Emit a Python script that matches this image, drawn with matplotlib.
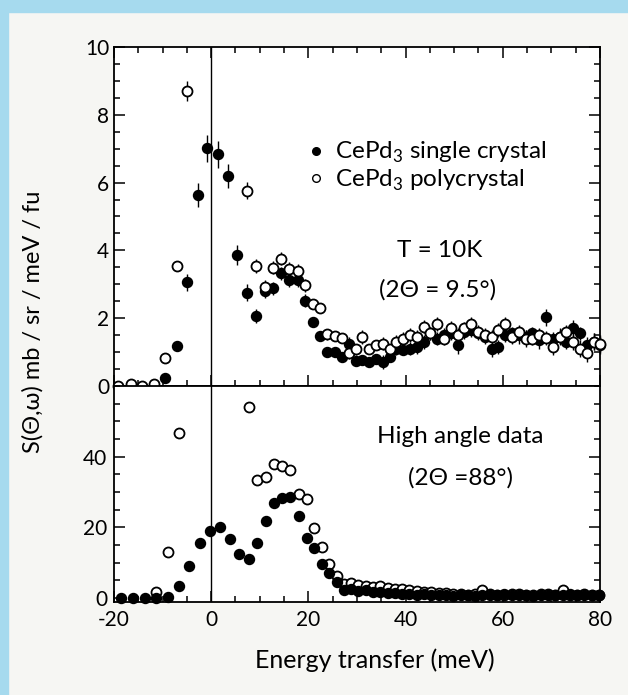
import numpy as np
import matplotlib
matplotlib.use('Agg')
import matplotlib.pyplot as plt
from matplotlib.lines import Line2D
from matplotlib.patches import Rectangle
from matplotlib.ticker import MultipleLocator

plt.rcParams['font.family'] = ['Lato', 'DejaVu Sans']
plt.rcParams['mathtext.fontset'] = 'custom'
plt.rcParams['mathtext.rm'] = 'Lato'
plt.rcParams['axes.unicode_minus'] = False

nan = np.nan

# ---- low angle (2theta = 9.5 deg) ----
e_low = [-19.1, -16.6, -14.2, -11.8, -9.4, -7.1, -4.9, -2.8, -0.8, 1.4, 3.4, 5.4,
         7.3, 9.3, 11.0, 12.7, 14.4, 16.1, 17.8, 19.4, 20.9, 22.4, 23.9, 25.4,
         26.9, 28.3, 29.7, 31.1, 32.5, 33.9, 35.3, 36.7, 38.1, 39.5, 40.9, 42.3,
         43.7, 45.1, 46.5, 47.9, 49.3, 50.7, 52.1, 53.5, 54.9, 56.3, 57.7, 59.1,
         60.5, 61.9, 63.3, 64.7, 66.1, 67.5, 68.9, 70.3, 71.7, 73.1, 74.5, 75.9,
         77.3, 78.7, 80.0]
single_low = [nan, nan, nan, nan, 0.23, 1.18, 3.06, 5.63, 7.01, 6.84, 6.19, 3.86,
              2.75, 2.06, 2.81, 2.88, 3.32, 3.13, 3.13, 2.52, 1.89, 1.47, 1.01, 1.01,
              0.85, 1.25, 0.75, 0.77, 0.72, 0.80, 0.70, 0.85, 1.10, 1.05, 1.10, 1.15,
              1.30, 1.55, 1.40, 1.50, 1.55, 1.20, 1.60, 1.65, 1.55, 1.45, 1.10, 1.15,
              1.50, 1.55, 1.50, 1.45, 1.55, 1.35, 2.03, 1.40, 1.45, 1.30, 1.70, 1.55,
              1.20, 1.30, 1.20]
poly_low = [0.0, 0.05, 0.0, 0.05, 0.82, 3.54, 8.7, nan, nan, nan, nan, nan,
            5.76, 3.54, 2.93, 3.49, 3.76, 3.46, 3.40, 2.97, 2.41, 2.29, 1.52, 1.47,
            1.42, 0.96, 1.08, 1.45, 1.10, 1.20, 1.25, 1.10, 1.30, 1.40, 1.50, 1.45,
            1.75, 1.55, 1.83, 1.40, 1.72, 1.50, 1.70, 1.84, 1.60, 1.50, 1.45, 1.65,
            1.83, 1.45, 1.60, 1.40, 1.40, 1.50, 1.42, 1.15, 1.45, 1.60, 1.30, 1.10,
            0.97, 1.30, 1.25]
err_single = [0.05, 0.05, 0.05, 0.05, 0.1, 0.15, 0.25, 0.35, 0.4, 0.4, 0.35, 0.3,
              0.25, 0.2, 0.2, 0.2, 0.2, 0.2, 0.2, 0.2, 0.15, 0.15, 0.15, 0.15,
              0.15, 0.2, 0.15, 0.15, 0.15, 0.15, 0.2, 0.15, 0.2, 0.15, 0.2, 0.2,
              0.2, 0.2, 0.2, 0.2, 0.2, 0.25, 0.2, 0.2, 0.2, 0.2, 0.25, 0.2,
              0.2, 0.2, 0.25, 0.2, 0.2, 0.25, 0.25, 0.2, 0.25, 0.2, 0.25, 0.2,
              0.25, 0.25, 0.25]
err_poly = [0.05, 0.05, 0.05, 0.05, 0.1, 0.15, 0.3, nan, nan, nan, nan, nan,
            0.25, 0.2, 0.2, 0.2, 0.2, 0.2, 0.2, 0.2, 0.15, 0.15, 0.15, 0.15,
            0.15, 0.15, 0.15, 0.2, 0.15, 0.15, 0.2, 0.15, 0.2, 0.2, 0.2, 0.2,
            0.2, 0.2, 0.2, 0.2, 0.2, 0.2, 0.2, 0.2, 0.2, 0.2, 0.2, 0.2,
            0.2, 0.2, 0.2, 0.25, 0.2, 0.2, 0.2, 0.25, 0.2, 0.2, 0.25, 0.25,
            0.25, 0.25, 0.25]

# ---- high angle (2theta = 88 deg) ----
e_high = [-18.6, -16.1, -13.7, -11.3, -8.9, -6.7, -4.5, -2.4, -0.3, 1.9, 3.8, 5.8,
          7.7, 9.5, 11.3, 13.0, 14.6, 16.3, 18.0, 19.7, 21.2, 22.8, 24.2, 25.8,
          27.3, 28.8, 30.3, 31.8, 33.3, 34.8, 36.3, 37.8, 39.3, 40.8, 42.3, 43.8,
          45.3, 46.8, 48.3, 49.8, 51.3, 52.8, 54.3, 55.8, 57.3, 58.8, 60.3, 61.8,
          63.3, 64.8, 66.3, 67.8, 69.3, 70.8, 72.3, 73.8, 75.3, 76.8, 78.3, 79.8]
single_high = [0.0, 0.0, 0.0, 0.1, 0.4, 3.4, 9.1, 15.5, 18.9, 20.2, 16.6, 12.4,
               11.0, 15.5, 21.9, 26.8, 28.4, 28.6, 23.2, 17.1, 14.1, 9.6, 7.2, 4.7,
               2.3, 2.7, 2.0, 2.3, 1.8, 1.6, 1.5, 1.4, 1.3, 1.2, 1.0, 1.1,
               0.9, 0.8, 0.9, 0.7, 0.8, 0.9, 0.6, 0.8, 1.0, 0.9, 1.1, 1.0,
               0.8, 0.9, 0.7, 0.8, 1.0, 0.9, 0.8, 1.1, 0.9, 1.0, 0.8, 0.9]
poly_high = [nan, nan, nan, 1.8, 13.1, 46.6, nan, nan, nan, nan, nan, nan,
             54.0, 33.4, 34.4, 37.8, 37.3, 36.3, 29.4, 28.0, 19.7, 14.5, 9.6, 6.3,
             4.0, 4.3, 3.8, 3.5, 3.2, 3.4, 2.8, 2.5, 2.6, 2.2, 2.0, 1.8,
             1.6, 1.4, 1.5, 1.2, 1.1, 1.0, 1.3, 2.4, 1.1, 1.0, 0.9, 1.2,
             1.1, 0.8, 1.0, 1.3, 1.1, 1.0, 2.2, 1.0, 0.9, 1.2, 1.0, 0.8]

fig = plt.figure(figsize=(6.28, 6.95), dpi=100)
fig.patch.set_facecolor('#f6f6f3')
# scanned-slide blue edge
fig.patches.append(Rectangle((0, 0.983), 1, 0.017, transform=fig.transFigure,
                             color='#a6daee', zorder=0))
fig.patches.append(Rectangle((0, 0), 0.012, 1, transform=fig.transFigure,
                             color='#a6daee', zorder=0))

ax1 = fig.add_axes([0.1815, 0.4446, 0.7739, 0.4878])
ax2 = fig.add_axes([0.1815, 0.1338, 0.7739, 0.3108], sharex=ax1)

ms = 7.2
ax1.errorbar(e_low, single_low, yerr=err_single, fmt='o', color='black', ms=ms,
             mec='black', mew=1.0, elinewidth=1.0, capsize=0, zorder=3, clip_on=False)
ax1.errorbar(e_low, poly_low, yerr=err_poly, fmt='o', color='black', ms=ms,
             mfc='white', mec='black', mew=1.3, elinewidth=1.0, capsize=0, zorder=4,
             clip_on=False)

ax2.plot(e_high, poly_high, 'o', ms=ms, mfc='white', mec='black', mew=1.3,
         zorder=3, clip_on=False)
ax2.plot(e_high, single_high, 'o', ms=ms, color='black', zorder=4, clip_on=False)

for ax in (ax1, ax2):
    ax.axvline(0, color='black', lw=1.0, zorder=1)
    ax.set_facecolor('white')
    ax.set_xlim(-20, 80)
    ax.xaxis.set_major_locator(MultipleLocator(20))
    ax.xaxis.set_minor_locator(MultipleLocator(5))
    for s in ax.spines.values():
        s.set_linewidth(1.3)
    ax.tick_params(which='both', direction='in', right=True, width=1.1,
                   labelsize=15)
    ax.tick_params(which='major', length=8)
    ax.tick_params(which='minor', length=4.5)

ax1.set_ylim(0, 10)
ax1.yaxis.set_major_locator(MultipleLocator(2))
ax1.yaxis.set_minor_locator(MultipleLocator(0.5))
ax1.tick_params(which='both', top=True, bottom=True, labelbottom=False)

ax2.set_ylim(-1.1, 60)
ax2.set_yticks([0, 20, 40])
ax2.yaxis.set_minor_locator(MultipleLocator(5))
ax2.tick_params(which='both', top=False)
ax2.tick_params(axis='x', which='major', pad=6)
ax2.tick_params(axis='y', which='major', pad=5)

handles = [Line2D([], [], marker='o', ls='none', color='black', ms=5.5),
           Line2D([], [], marker='o', ls='none', mfc='white', mec='black',
                  mew=1.0, ms=5.5)]
ax1.legend(handles, ['CePd$_3$ single crystal', 'CePd$_3$ polycrystal'],
           loc='upper left', bbox_to_anchor=(0.4, 0.725), frameon=False,
           fontsize=17.5, handlelength=0.6, handletextpad=0.5,
           labelspacing=0.1, borderpad=0, borderaxespad=0)

ax1.text(0.671, 0.401, 'T = 10K', transform=ax1.transAxes, ha='center',
         va='center', fontsize=17.5)
ax1.text(0.665, 0.283, '(2\u0398 = 9.5\u00b0)', transform=ax1.transAxes,
         ha='center', va='center', fontsize=17.5)
ax2.text(0.712, 0.764, 'High angle data', transform=ax2.transAxes, ha='center',
         va='center', fontsize=17.5)
ax2.text(0.712, 0.574, '(2\u0398 =88\u00b0)', transform=ax2.transAxes,
         ha='center', va='center', fontsize=17.5)

fig.text(0.053, 0.537, 'S(\u0398,\u03c9) mb / sr / meV / fu', rotation=90,
         ha='center', va='center', fontsize=17)
fig.text(0.597, 0.05, 'Energy transfer (meV)', ha='center', va='center',
         fontsize=18)

fig.savefig('out.png', dpi=100, facecolor=fig.get_facecolor())
